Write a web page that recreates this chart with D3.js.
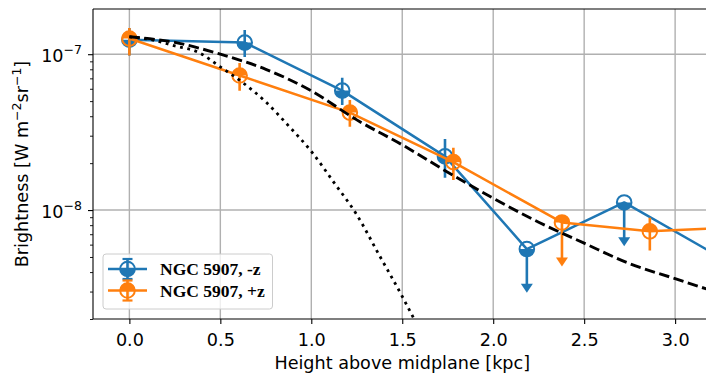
<!DOCTYPE html>
<html>
<head>
<meta charset="utf-8">
<script src="https://cdn.jsdelivr.net/npm/d3@7"></script>
<style>
  body { margin: 0; background: #fff; }
  svg { display: block; }
</style>
</head>
<body>
<div id="chart"></div>
<script>
// ---- values ----
// NGC 5907, -z
const zMinus = [0.0, 0.634, 1.17, 1.735, 2.185, 2.72, 3.3];
const bMinus = [1.24e-7, 1.187e-7, 5.84e-8, 2.21e-8, 5.62e-9, 1.119e-8, 4.6e-9];
const loMinus = [9.8e-8, 9.61e-8, 4.73e-8, 1.61e-8, 2.95e-9, 5.85e-9, null];
const hiMinus = [1.474e-7, 1.43e-7, 7.05e-8, 2.86e-8, null, null, null];
const ulMinus = [false, false, false, false, true, true, false];

// NGC 5907, +z
const zPlus = [0.0, 0.606, 1.212, 1.781, 2.378, 2.861, 3.35];
const bPlus = [1.26e-7, 7.3e-8, 4.22e-8, 2.03e-8, 8.33e-9, 7.3e-9, 7.77e-9];
const loPlus = [9.8e-8, 5.82e-8, 3.42e-8, 1.56e-8, 4.35e-9, 5.5e-9, null];
const hiPlus = [1.474e-7, 8.79e-8, 5.09e-8, 2.51e-8, null, 8.93e-9, null];
const ulPlus = [false, false, false, false, true, false, false];

// model curves
const zDashed = [0, 0.25, 0.5, 0.75, 1.0, 1.25, 1.5, 1.75, 2.0, 2.25, 2.5, 2.75, 3.0, 3.25];
const bDashed = [1.295e-7, 1.19e-7, 1.0e-7, 8.0e-8, 5.82e-8, 3.79e-8, 2.62e-8, 1.75e-8,
                 1.19e-8, 8.36e-9, 6.13e-9, 4.53e-9, 3.63e-9, 2.91e-9];
const zDotted = [0, 0.125, 0.25, 0.375, 0.5, 0.625, 0.75, 0.875, 1.0, 1.125, 1.25, 1.375, 1.5, 1.55, 1.6];
const bDotted = [1.291e-7, 1.236e-7, 1.13e-7, 1.034e-7, 8.29e-8, 6.55e-8, 4.94e-8, 3.47e-8,
                 2.38e-8, 1.5e-8, 9.33e-9, 5.1e-9, 2.79e-9, 2.16e-9, 1.66e-9];

const xTicks = [0, 0.5, 1, 1.5, 2, 2.5, 3];
const yMajor = [1e-8, 1e-7];
const yMinor = [2e-9, 3e-9, 4e-9, 5e-9, 6e-9, 7e-9, 8e-9, 9e-9,
                2e-8, 3e-8, 4e-8, 5e-8, 6e-8, 7e-8, 8e-8, 9e-8];

const blue = "#1f77b4", orange = "#ff7f0e";

const W = 706, H = 376;
const pLeft = 93, pTop = 9, pRight = 711.5, pBottom = 319;
const fs = 17.6, fsSup = 12.5;
const R = 7.3;

const svg = d3.select("#chart").append("svg")
  .attr("width", W).attr("height", H)
  .style("font-family", "'DejaVu Sans', sans-serif");

const x = d3.scaleLinear().domain([-0.2, 3.2]).range([pLeft, pRight]);
const y = d3.scaleLog().domain([2.0e-9, 1.95e-7]).range([pBottom, pTop]);

svg.append("clipPath").attr("id", "plot")
  .append("rect").attr("x", pLeft).attr("y", pTop)
  .attr("width", pRight - pLeft).attr("height", pBottom - pTop);

// grid
const grid = svg.append("g").attr("stroke", "#b0b0b0").attr("stroke-width", 1.4);
grid.selectAll(".gx").data(xTicks).enter().append("line")
  .attr("x1", d => x(d)).attr("x2", d => x(d)).attr("y1", pTop).attr("y2", pBottom);
grid.selectAll(".gy").data(yMajor).enter().append("line")
  .attr("x1", pLeft).attr("x2", pRight).attr("y1", d => y(d)).attr("y2", d => y(d));

const plot = svg.append("g").attr("clip-path", "url(#plot)");

function halfDisc(r, which) {
  // which = "bottom" or "top"
  const sweep = which === "top" ? 1 : 0;
  return `M${-r},0A${r},${r} 0 0 ${sweep} ${r},0Z`;
}

function drawSeries(zs, bs, los, his, uls, color, fillHalf) {
  const g = plot.append("g");
  const pts = zs.map((z, i) => ({ z, b: bs[i], lo: los[i], hi: his[i], ul: uls[i] }));

  // error bars
  pts.forEach(p => {
    if (p.ul) {
      const tip = y(p.lo);
      g.append("line").attr("x1", x(p.z)).attr("x2", x(p.z))
        .attr("y1", y(p.b)).attr("y2", tip - 6)
        .attr("stroke", color).attr("stroke-width", 2.6);
      g.append("path")
        .attr("d", `M${x(p.z) - 6},${tip - 9}L${x(p.z) + 6},${tip - 9}L${x(p.z)},${tip}Z`)
        .attr("fill", color);
    } else if (p.lo != null) {
      g.append("line").attr("x1", x(p.z)).attr("x2", x(p.z))
        .attr("y1", y(p.hi)).attr("y2", y(p.lo))
        .attr("stroke", color).attr("stroke-width", 2.6);
    }
  });

  // connecting line
  g.append("path").datum(pts)
    .attr("d", d3.line().x(d => x(d.z)).y(d => y(d.b)))
    .attr("fill", "none").attr("stroke", color).attr("stroke-width", 2.5)
    .attr("stroke-linejoin", "round");

  // half-filled circle markers
  const m = g.selectAll(".m").data(pts).enter().append("g")
    .attr("transform", d => `translate(${x(d.z)},${y(d.b)})`);
  m.append("path").attr("d", halfDisc(R, fillHalf)).attr("fill", color);
  m.append("circle").attr("r", R).attr("fill", "none")
    .attr("stroke", color).attr("stroke-width", 2);
}

drawSeries(zMinus, bMinus, loMinus, hiMinus, ulMinus, blue, "bottom");
drawSeries(zPlus, bPlus, loPlus, hiPlus, ulPlus, orange, "top");

// model curves
const curve = d3.line().curve(d3.curveMonotoneX)
  .x(d => x(d[0])).y(d => y(d[1]));
plot.append("path").datum(zDashed.map((z, i) => [z, bDashed[i]]))
  .attr("d", curve).attr("fill", "none").attr("stroke", "#000")
  .attr("stroke-width", 2.9).attr("stroke-dasharray", "10.5,4.5");
plot.append("path").datum(zDotted.map((z, i) => [z, bDotted[i]]))
  .attr("d", curve).attr("fill", "none").attr("stroke", "#000")
  .attr("stroke-width", 2.8).attr("stroke-dasharray", "2.8,4.6");

// axes
const xAxis = svg.append("g").attr("transform", `translate(0,${pBottom})`)
  .call(d3.axisBottom(x).tickValues(xTicks).tickFormat(d3.format(".1f"))
    .tickSize(5).tickPadding(6));
xAxis.select(".domain").remove();
xAxis.selectAll("line").attr("stroke", "#000").attr("stroke-width", 1.1);
xAxis.selectAll("text").attr("font-size", fs).attr("font-family", "'DejaVu Sans', sans-serif")
  .attr("fill", "#000").attr("dy", null).attr("y", 27);

const yAxis = svg.append("g").attr("transform", `translate(${pLeft},0)`)
  .call(d3.axisLeft(y).tickValues(yMajor).tickSize(5).tickPadding(6).tickFormat(""));
yAxis.select(".domain").remove();
yAxis.selectAll("line").attr("stroke", "#000").attr("stroke-width", 1.1);
yAxis.selectAll("text").each(function (d) {
  const t = d3.select(this).attr("font-size", fs).attr("fill", "#000")
    .attr("font-family", "'DejaVu Sans', sans-serif").attr("dy", null).attr("y", 7.5);
  t.append("tspan").text("10");
  t.append("tspan").attr("dy", -8.5).attr("font-size", fsSup)
    .text("\u2212" + Math.round(-Math.log10(d)));
});

const yMin = svg.append("g").attr("transform", `translate(${pLeft},0)`)
  .call(d3.axisLeft(y).tickValues(yMinor).tickSize(3).tickFormat(""));
yMin.select(".domain").remove();
yMin.selectAll("line").attr("stroke", "#000").attr("stroke-width", 0.9);

// spines
const spine = svg.append("g").attr("stroke", "#000").attr("stroke-width", 1.1).attr("fill", "none");
spine.append("line").attr("x1", pLeft).attr("x2", pLeft).attr("y1", pTop).attr("y2", pBottom);
spine.append("line").attr("x1", pLeft).attr("x2", pRight).attr("y1", pBottom).attr("y2", pBottom);
spine.append("line").attr("x1", pLeft).attr("x2", pRight).attr("y1", pTop).attr("y2", pTop);

// axis labels
svg.append("text").attr("x", (pLeft + pRight) / 2).attr("y", 369)
  .attr("text-anchor", "middle").attr("font-size", fs).text("Height above midplane [kpc]");

const yl = svg.append("text").attr("transform", `translate(28,${(pTop + pBottom) / 2}) rotate(-90)`)
  .attr("text-anchor", "middle").attr("font-size", fs);
yl.append("tspan").text("Brightness [W m");
yl.append("tspan").attr("dy", -7).attr("font-size", fsSup).text("\u22122");
yl.append("tspan").attr("dy", 7).text("sr");
yl.append("tspan").attr("dy", -7).attr("font-size", fsSup).text("\u22121");
yl.append("tspan").attr("dy", 7).text("]");

// legend
const legendItems = [
  { label: "NGC 5907, -z", color: blue, half: "bottom" },
  { label: "NGC 5907, +z", color: orange, half: "top" }
];
const lg = svg.append("g");
lg.append("rect").attr("x", 103).attr("y", 254).attr("width", 169.5).attr("height", 55)
  .attr("rx", 3).attr("fill", "#fff").attr("fill-opacity", 0.8)
  .attr("stroke", "#cccccc").attr("stroke-width", 1);
legendItems.forEach((it, i) => {
  const cy = 269 + i * 21.5;
  const g = lg.append("g");
  g.append("line").attr("x1", 108).attr("x2", 147).attr("y1", cy).attr("y2", cy)
    .attr("stroke", it.color).attr("stroke-width", 2.5);
  g.append("line").attr("x1", 127.5).attr("x2", 127.5).attr("y1", cy - 10).attr("y2", cy + 10)
    .attr("stroke", it.color).attr("stroke-width", 2.6);
  [cy - 10, cy + 10].forEach(cyy => g.append("line")
    .attr("x1", 122.5).attr("x2", 132.5).attr("y1", cyy).attr("y2", cyy)
    .attr("stroke", it.color).attr("stroke-width", 2.2));
  const mk = g.append("g").attr("transform", `translate(127.5,${cy})`);
  mk.append("path").attr("d", halfDisc(R, it.half)).attr("fill", it.color);
  mk.append("circle").attr("r", R).attr("fill", "none").attr("stroke", it.color).attr("stroke-width", 2);
  g.append("text").attr("x", 160).attr("y", cy + 6)
    .attr("font-family", "'Liberation Serif', 'Times New Roman', serif")
    .attr("font-weight", "bold").attr("font-size", 17.5).attr("fill", "#000")
    .text(it.label);
});
</script>
</body>
</html>
